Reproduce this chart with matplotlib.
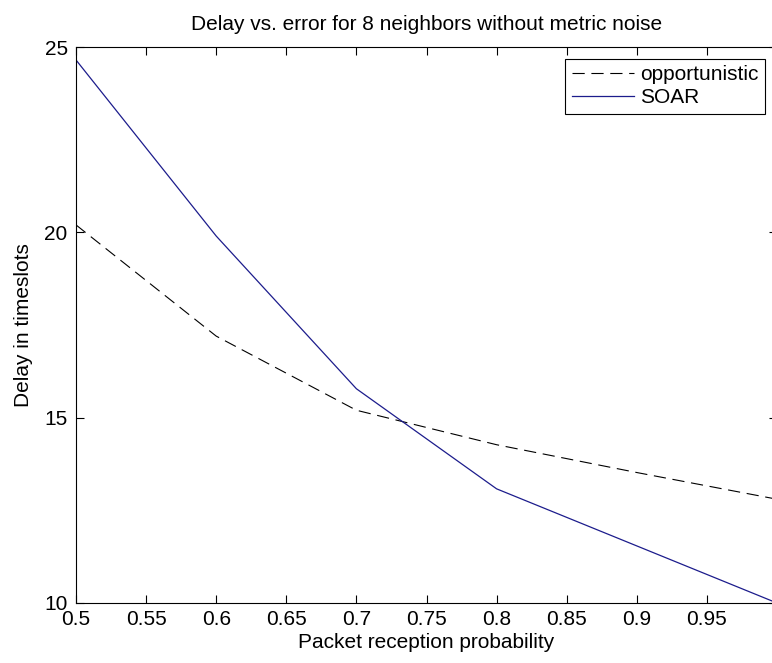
import matplotlib
matplotlib.use("Agg")
import matplotlib.pyplot as plt

# Data
x_vals = [0.5, 0.6, 0.7, 0.8, 0.9, 1.0]
opportunistic = [20.2, 17.2, 15.2, 14.27, 13.52, 12.8]
soar = [24.65, 19.9, 15.78, 13.08, 11.54, 10.0]
x_ticks = [0.5, 0.55, 0.6, 0.65, 0.7, 0.75, 0.8, 0.85, 0.9, 0.95, 1.0]
x_tick_labels = ['0.5', '0.55', '0.6', '0.65', '0.7', '0.75', '0.8', '0.85', '0.9', '0.95', '']
y_ticks = [10, 15, 20, 25]
y_tick_labels = ['10', '15', '20', '25']

plt.rcParams['font.family'] = ['Liberation Sans', 'DejaVu Sans']
FS = 15

W, H = 772, 663
fig = plt.figure(figsize=(W / 100, H / 100), dpi=100)
left, right, top, bottom = 76, 777, 47, 603
ax = fig.add_axes([left / W, (H - bottom) / H, (right - left) / W, (bottom - top) / H])

ax.plot(x_vals, opportunistic, color='black', lw=0.8, dashes=(11, 6), label='opportunistic')
ax.plot(x_vals, soar, color='#1c1c8c', lw=0.9, label='SOAR')

ax.set_xlim(0.5, 1.0)
ax.set_ylim(10, 25)
ax.set_xticks(x_ticks)
ax.set_xticklabels(x_tick_labels)
ax.set_yticks(y_ticks)
ax.set_yticklabels(y_tick_labels)
ax.tick_params(direction='in', length=5.5, width=0.8, top=True, right=True,
               labelsize=FS, colors='black')
ax.tick_params(axis='x', pad=5)
ax.tick_params(axis='y', pad=6)
for s in ax.spines.values():
    s.set_linewidth(0.8)

ax.set_title('Delay vs. error for 8 neighbors without metric noise', fontsize=FS, pad=12)
ax.set_xlabel('Packet reception probability', fontsize=FS, labelpad=3)
ax.set_ylabel('Delay in timeslots', fontsize=FS, labelpad=8)

leg = ax.legend(loc='upper right', bbox_to_anchor=(765 / W, (H - 59) / H),
                bbox_transform=fig.transFigure, fancybox=False, framealpha=1,
                edgecolor='black', fontsize=FS, handlelength=3.0, handletextpad=0.3,
                borderpad=0.3, labelspacing=0.2, borderaxespad=0)
leg.get_frame().set_linewidth(0.8)

fig.savefig('out.png', dpi=100)
